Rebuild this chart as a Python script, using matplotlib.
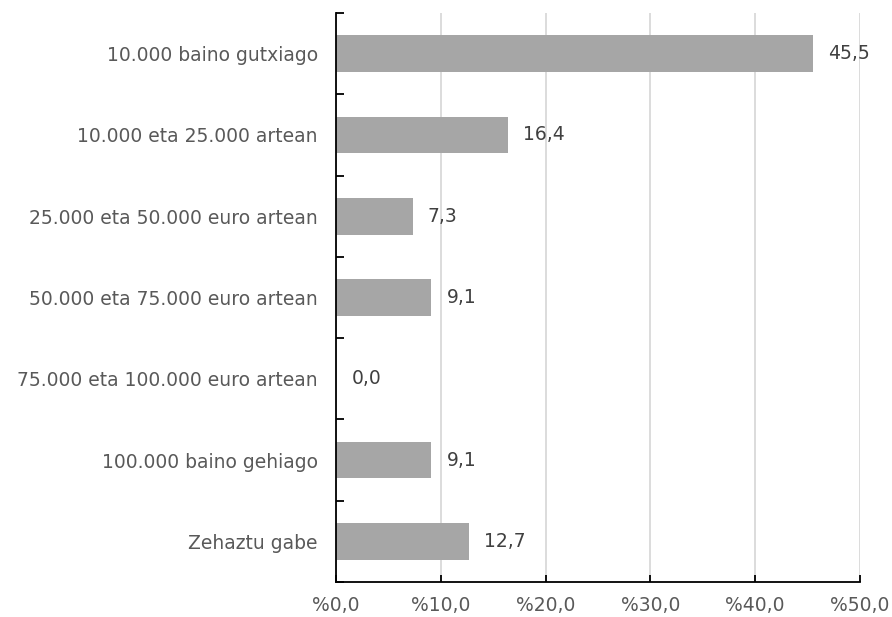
import matplotlib
matplotlib.use('Agg')
import matplotlib.pyplot as plt
import numpy as np

categories = ['10.000 baino gutxiago', '10.000 eta 25.000 artean',
              '25.000 eta 50.000 euro artean', '50.000 eta 75.000 euro artean',
              '75.000 eta 100.000 euro artean', '100.000 baino gehiago',
              'Zehaztu gabe']
values = [45.5, 16.4, 7.3, 9.1, 0.0, 9.1, 12.7]
xticks = [0, 10, 20, 30, 40, 50]

plt.rcParams['font.family'] = ['DejaVu Sans']
txt = '#595959'
fs = 13.5

fig = plt.figure(figsize=(8.92, 6.17), dpi=100)
ax = fig.add_axes([336 / 892, 1 - 582 / 617, 524 / 892, 569 / 617])

y = np.arange(len(categories))[::-1]
ax.barh(y, values, height=0.45, color='#a6a6a6', zorder=2)
for yi, v in zip(y, values):
    ax.annotate(('%.1f' % v).replace('.', ','), (v, yi), xytext=(11, 0),
                textcoords='offset points', va='center', ha='left',
                fontsize=fs, color='#404040')

ax.set_xlim(0, 50)
ax.set_ylim(-0.5, len(categories) - 0.5)
ax.set_xticks(xticks)
ax.set_xticklabels(['%' + ('%.1f' % t).replace('.', ',') for t in xticks],
                   fontsize=fs, color=txt)
ax.set_yticks(y)
ax.set_yticklabels(categories, fontsize=fs, color=txt)
ax.set_yticks(np.arange(len(categories) + 1) - 0.5, minor=True)
ax.tick_params(axis='y', which='major', length=0, pad=13)
ax.tick_params(axis='y', which='minor', direction='in', length=6, width=1.3)
ax.tick_params(axis='x', direction='in', length=5, width=1.3, pad=10)
ax.grid(axis='x', color='#d9d9d9', linewidth=1.3, zorder=0)
for s in ['top', 'right']:
    ax.spines[s].set_visible(False)
for s in ['left', 'bottom']:
    ax.spines[s].set_linewidth(1.3)

fig.savefig('out.png', dpi=100)
